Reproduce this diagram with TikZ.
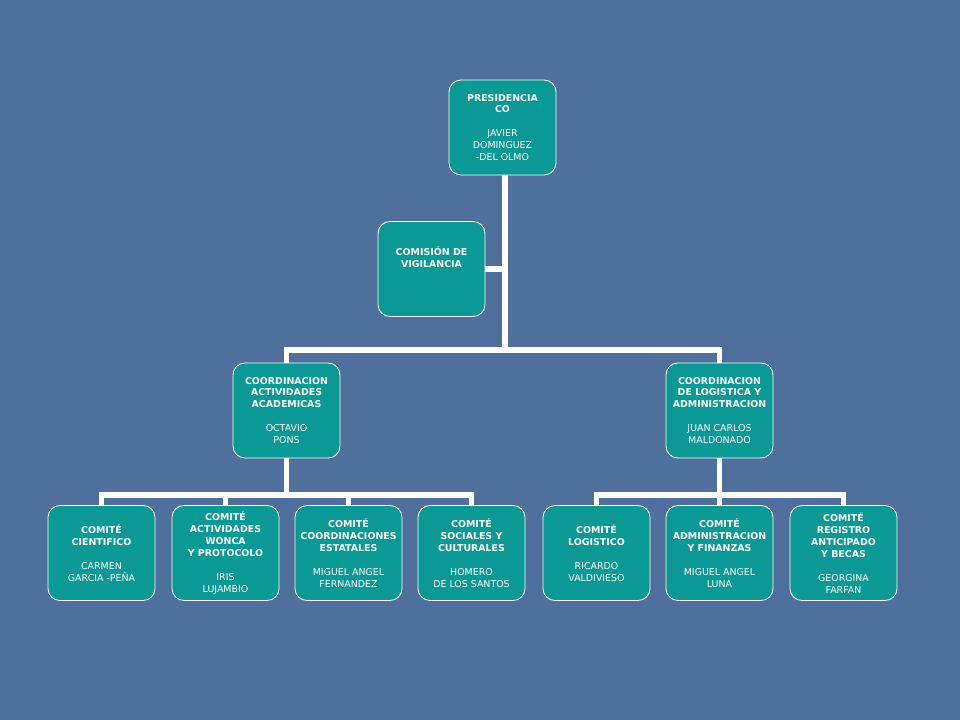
\documentclass[tikz,border=0pt]{standalone}
\usepackage{fontspec}
\setmainfont{DejaVu Sans}
\definecolor{fondo}{HTML}{4F709C}
\definecolor{caja}{HTML}{0A9994}
\tikzset{
  cargo/.style={draw=white, line width=0.6pt, fill=caja, rounded corners=0.3cm,
    minimum width=2.675cm, minimum height=2.375cm, inner sep=0pt, align=center,
    text=white, font=\fontsize{6.7}{8.5}\selectfont},
  enlace/.style={draw=white, line width=4.2pt, line cap=butt}
}
\newcommand{\titulo}[1]{\textbf{#1}}
\begin{document}
\begin{tikzpicture}[x=0.025cm, y=-0.025cm]
\fill [fondo] (0,0) rectangle (960,720);
\useasboundingbox (0,0) rectangle (960,720);
% niveles superiores
\node[cargo] (pres) at (502.5,127.5) {\titulo{PRESIDENCIA}\\\titulo{CO}\\[8.5pt]JAVIER\\DOMINGUEZ\\-DEL OLMO};
\node[cargo] (comi) at (431.5,269) {\titulo{COMISIÓN DE}\\\titulo{VIGILANCIA}\\~\\~};
\node[cargo] (acad) at (286.5,410.5) {\titulo{COORDINACION}\\\titulo{ACTIVIDADES}\\\titulo{ACADEMICAS}\\[8.5pt]OCTAVIO\\PONS};
\node[cargo] (logi) at (719.5,410.5) {\titulo{COORDINACION}\\\titulo{DE LOGISTICA Y}\\\titulo{ADMINISTRACION}\\[8.5pt]JUAN CARLOS\\MALDONADO};
% comites
\node[cargo] (cien) at (101.5,553) {\titulo{COMITÉ}\\\titulo{CIENTIFICO}\\[8.5pt]CARMEN\\GARCIA -PEÑA};
\node[cargo] (wonc) at (225.5,553) {\titulo{COMITÉ}\\\titulo{ACTIVIDADES}\\\titulo{WONCA}\\\titulo{Y PROTOCOLO}\\[8.5pt]IRIS\\LUJAMBIO};
\node[cargo] (esta) at (348.5,553) {\titulo{COMITÉ}\\\titulo{COORDINACIONES}\\\titulo{ESTATALES}\\[8.5pt]MIGUEL ANGEL\\FERNANDEZ};
\node[cargo] (soci) at (471.5,553) {\titulo{COMITÉ}\\\titulo{SOCIALES Y}\\\titulo{CULTURALES}\\[8.5pt]HOMERO\\DE LOS SANTOS};
\node[cargo] (logc) at (596.5,553) {\titulo{COMITÉ}\\\titulo{LOGISTICO}\\[8.5pt]RICARDO\\VALDIVIESO};
\node[cargo] (fina) at (719.5,553) {\titulo{COMITÉ}\\\titulo{ADMINISTRACION}\\\titulo{Y FINANZAS}\\[8.5pt]MIGUEL ANGEL\\LUNA};
\node[cargo] (beca) at (843.5,553) {\titulo{COMITÉ}\\\titulo{REGISTRO}\\\titulo{ANTICIPADO}\\\titulo{Y BECAS}\\[8.5pt]GEORGINA\\FARFAN};
% enlaces
\coordinate (nivel) at (0,495);
\coordinate (busA) at (505,350);
\coordinate (busB) at (acad.south |- nivel);
\coordinate (busC) at (logi.south |- nivel);
\draw[enlace] (pres.south -| busA) -- (busA);
\draw[enlace] (comi.east) -- (comi.east -| busA);
\draw[enlace] (acad.north) |- (busA) -| (logi.north);
\draw[enlace] (acad.south) -- (busB);
\draw[enlace] (cien.north) |- (busB) -| (soci.north);
\draw[enlace] (wonc.north) -- (wonc.north |- busB);
\draw[enlace] (esta.north) -- (esta.north |- busB);
\draw[enlace] (logi.south) -- (busC);
\draw[enlace] (logc.north) |- (busC) -| (beca.north);
\draw[enlace] (fina.north) -- (fina.north |- busC);
\end{tikzpicture}
\end{document}
